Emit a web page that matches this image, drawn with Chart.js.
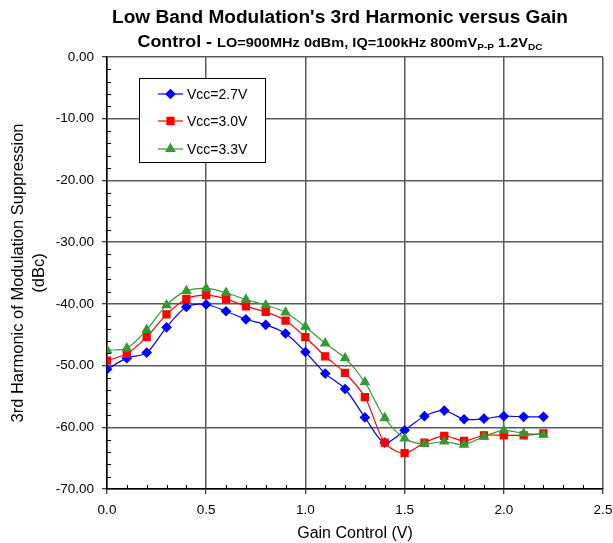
<!DOCTYPE html>
<html>
<head>
<meta charset="utf-8">
<script src="https://cdn.jsdelivr.net/npm/chart.js@4.4.1/dist/chart.umd.min.js"></script>
<style>
  body { margin: 0; background: #fff; }
  #wrap { width: 613px; height: 543px; }
</style>
</head>
<body>
<div id="wrap"><canvas id="harmChart" width="613" height="543"></canvas></div>
<script>
// ---- data ----
const gainControl = [0, 0.1, 0.2, 0.3, 0.4, 0.5, 0.6, 0.7, 0.8, 0.9, 1.0, 1.1,
                     1.2, 1.3, 1.4, 1.5, 1.6, 1.7, 1.8, 1.9, 2.0, 2.1, 2.2];
const vcc27 = [-50.6, -48.8, -47.9, -43.8, -40.5, -40.1, -41.2, -42.5, -43.4, -44.8, -47.8, -51.3,
               -53.8, -58.4, -62.5, -60.5, -58.2, -57.3, -58.7, -58.6, -58.2, -58.3, -58.3];
const vcc30 = [-49.2, -48.1, -45.4, -41.7, -39.2, -38.6, -39.2, -40.4, -41.3, -42.7, -45.4, -48.5,
               -51.2, -55.1, -62.5, -64.2, -62.5, -61.4, -62.2, -61.3, -61.3, -61.3, -61.0];
const vcc33 = [-47.5, -47.2, -44.2, -40.2, -37.9, -37.5, -38.2, -39.3, -40.2, -41.4, -43.7, -46.4,
               -48.8, -52.7, -58.5, -61.8, -62.7, -62.3, -62.8, -61.5, -60.5, -61.0, -61.2];
const seriesNames = ['Vcc=2.7V', 'Vcc=3.0V', 'Vcc=3.3V'];

const titleLine1 = "Low Band Modulation's 3rd Harmonic versus Gain";
const xTitle = 'Gain Control (V)';
const yTitle = ['3rd Harmonic of Modulation Suppression', '(dBc)'];

const FONT = '"Liberation Sans", Arial, sans-serif';
Chart.defaults.font.family = FONT;
Chart.defaults.color = '#000';

function toPoints(ys) {
    return ys.map((y, i) => ({ x: gainControl[i], y: y }));
}

// white background + title with subscripts (reference text is a bit wide, so stretch to fit)
const titlePlugin = {
    id: 'twoLineTitle',
    beforeDraw(chart) {
        const c = chart.ctx;
        c.save();
        c.fillStyle = '#fff';
        c.fillRect(0, 0, chart.width, chart.height);
        c.restore();
    },
    afterDraw(chart) {
        const c = chart.ctx;
        const cx = 340;
        c.save();
        c.fillStyle = '#000';
        c.textBaseline = 'alphabetic';
        c.textAlign = 'left';

        c.font = 'bold 18px ' + FONT;
        let w1 = c.measureText(titleLine1).width;
        let sx = 456 / w1;
        c.save();
        c.translate(cx - 228, 23);
        c.scale(sx, 1);
        c.fillText(titleLine1, 0, 0);
        c.restore();

        const parts = [
            { t: 'Control - ', f: 'bold 16px ', dy: 0 },
            { t: 'LO=900MHz 0dBm, IQ=100kHz 800mV', f: 'bold 13px ', dy: 0 },
            { t: 'P-P', f: 'bold 9px ', dy: 2.5 },
            { t: ' 1.2V', f: 'bold 13px ', dy: 0 },
            { t: 'DC', f: 'bold 9px ', dy: 2.5 }
        ];
        let total = 0;
        parts.forEach(p => { c.font = p.f + FONT; p.w = c.measureText(p.t).width; total += p.w; });
        sx = 405 / total;
        c.translate(cx - 202.5, 47);
        c.scale(sx, 1);
        let x = 0;
        parts.forEach(p => {
            c.font = p.f + FONT;
            c.fillText(p.t, x, p.dy);
            x += p.w;
        });
        c.restore();
    }
};

// small inside ticks + legend box
const extrasPlugin = {
    id: 'extras',
    afterDatasetsDraw(chart) {
        const c = chart.ctx;
        const xs = chart.scales.x, ys = chart.scales.y;
        const area = chart.chartArea;
        c.save();
        c.strokeStyle = '#000';
        c.lineWidth = 1;
        c.beginPath();
        for (let i = 1; i < 25; i++) {
            if (i % 5 === 0) continue;
            const px = Math.round(xs.getPixelForValue(i / 10)) + 0.5;
            c.moveTo(px, area.bottom);
            c.lineTo(px, area.bottom - 4);
        }
        for (let v = -68; v < 0; v += 2) {
            if (v % 10 === 0) continue;
            const py = Math.round(ys.getPixelForValue(v)) + 0.5;
            c.moveTo(area.left, py);
            c.lineTo(area.left + 4, py);
        }
        c.stroke();

        // legend
        c.fillStyle = '#fff';
        c.fillRect(139.5, 78.5, 126, 84);
        c.strokeRect(139.5, 78.5, 126, 84);
        const rows = [94, 121, 149];
        chart.data.datasets.forEach((ds, i) => {
            const y = rows[i];
            c.strokeStyle = ds.borderColor;
            c.lineWidth = 1.2;
            c.beginPath();
            c.moveTo(158, y);
            c.lineTo(183, y);
            c.stroke();
            c.fillStyle = ds.pointBackgroundColor;
            c.strokeStyle = ds.pointBorderColor;
            Chart.helpers.drawPoint(c, {
                pointStyle: ds.pointStyle, radius: ds.pointRadius, rotation: 0, borderWidth: 1
            }, 170.5, y);
            c.fillStyle = '#000';
            c.font = '14px ' + FONT;
            c.textBaseline = 'middle';
            c.textAlign = 'left';
            c.fillText(seriesNames[i], 187, y + 1);
        });
        c.restore();
    }
};

const harmChart = new Chart(document.getElementById('harmChart'), {
    type: 'line',
    data: {
        datasets: [
            {
                label: seriesNames[0],
                data: toPoints(vcc27),
                borderColor: '#0000ff',
                pointBackgroundColor: '#0000ff',
                pointBorderColor: '#0000ff',
                pointStyle: 'rectRot',
                pointRadius: 4.5,
                borderWidth: 1.2,
                tension: 0.3,
                order: 3
            },
            {
                label: seriesNames[1],
                data: toPoints(vcc30),
                borderColor: '#ff0000',
                pointBackgroundColor: '#ff0000',
                pointBorderColor: '#ff0000',
                pointStyle: 'rect',
                pointRadius: 5,
                borderWidth: 1.2,
                tension: 0.3,
                order: 2
            },
            {
                label: seriesNames[2],
                data: toPoints(vcc33),
                borderColor: '#339933',
                pointBackgroundColor: '#339933',
                pointBorderColor: '#339933',
                pointStyle: 'triangle',
                pointRadius: 5,
                borderWidth: 1.2,
                tension: 0.3,
                order: 1
            }
        ]
    },
    options: {
        responsive: false,
        animation: false,
        layout: { padding: { top: 57, right: 0, left: 0, bottom: 0 } },
        plugins: {
            legend: { display: false },
            title: { display: false },
            tooltip: { enabled: false }
        },
        scales: {
            x: {
                type: 'linear',
                min: 0,
                max: 2.5,
                afterFit: s => { s.height = 54; s.paddingRight = 10; s.paddingLeft = 10; },
                ticks: {
                    stepSize: 0.5,
                    padding: 8,
                    font: { size: 13.5 },
                    color: '#000',
                    maxRotation: 0,
                    callback: v => Number(v).toFixed(1)
                },
                grid: { color: '#5a5a5a', lineWidth: 1.5, tickLength: 5, tickColor: '#000', tickWidth: 1 },
                border: { color: '#000', width: 1.5 },
                title: {
                    display: true,
                    text: xTitle,
                    font: { size: 16 },
                    color: '#000',
                    padding: { top: 0, bottom: 0 }
                }
            },
            y: {
                min: -70,
                max: 0,
                afterFit: s => { s.width = 107; },
                ticks: {
                    stepSize: 10,
                    padding: 8,
                    font: { size: 13.5 },
                    color: '#000',
                    callback: v => Number(v).toFixed(2)
                },
                grid: { color: '#5a5a5a', lineWidth: 1.5, tickLength: 5, tickColor: '#000', tickWidth: 1 },
                border: { color: '#000', width: 1.5 },
                title: {
                    display: true,
                    text: yTitle,
                    font: { size: 16.5, lineHeight: 1.3 },
                    color: '#000',
                    padding: { top: 7.5, bottom: 0 }
                }
            }
        }
    },
    plugins: [titlePlugin, extrasPlugin]
});
</script>
</body>
</html>
